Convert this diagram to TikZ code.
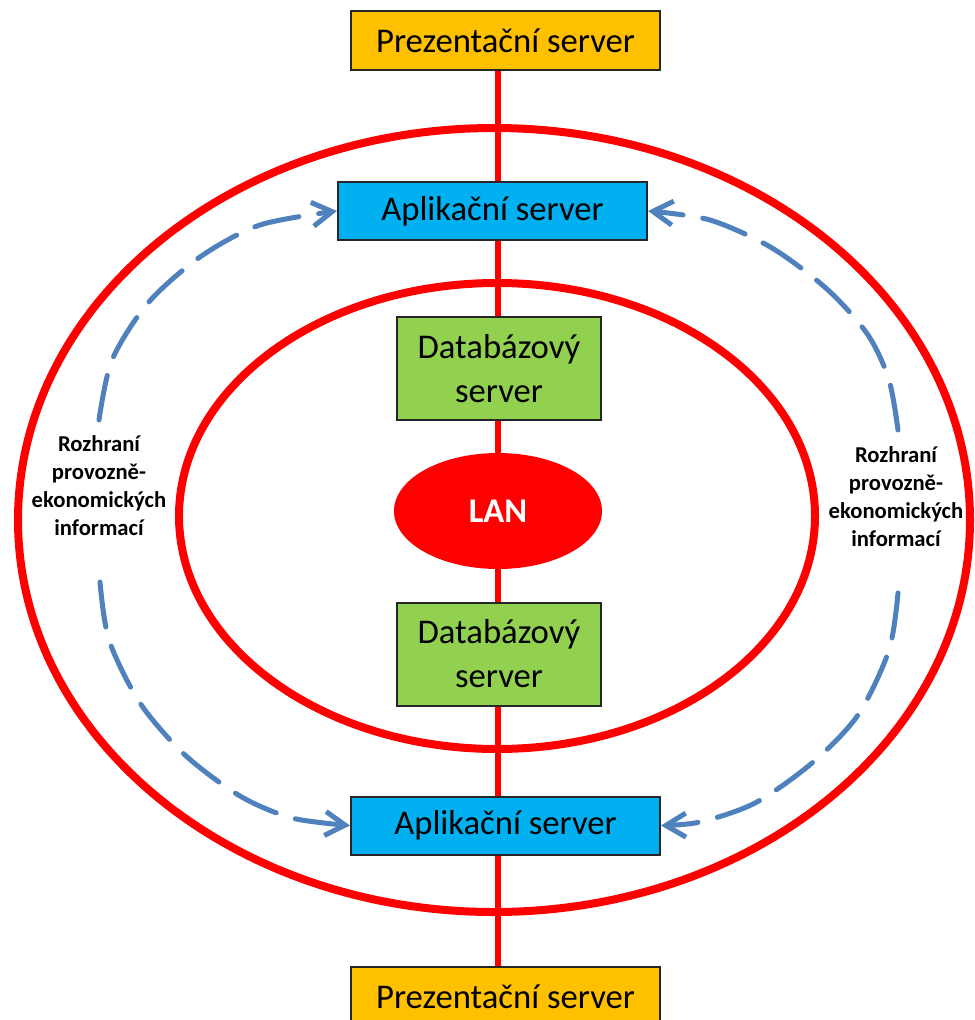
\documentclass[tikz,border=0pt]{standalone}
\usepackage{fontspec}
\setmainfont{Carlito}
\usetikzlibrary{shapes.geometric,arrows.meta}
\definecolor{ringred}{HTML}{FF0000}
\definecolor{presorange}{HTML}{FFC000}
\definecolor{appblue}{HTML}{00B0F0}
\definecolor{dbgreen}{HTML}{92D050}
\definecolor{flowblue}{HTML}{4F81BD}
\pgfdeclarelayer{back}
\pgfdeclarelayer{mid}
\pgfsetlayers{back,mid,main}
\begin{document}
\begin{tikzpicture}[x=0.75pt,y=-0.75pt,
  server/.style={draw=black!85,line width=1.5pt,inner sep=0pt,align=center,
    font=\fontsize{26}{33}\selectfont},
  pres/.style={server,fill=presorange,minimum width=231.75pt,minimum height=44.25pt},
  app/.style={server,fill=appblue,minimum width=231.75pt,minimum height=43.5pt},
  db/.style={server,fill=dbgreen,minimum width=153pt,minimum height=77.25pt},
  lannode/.style={ellipse,fill=ringred,text=white,inner sep=0pt,
    minimum width=156pt,minimum height=87pt,font=\bfseries\fontsize{26}{30}\selectfont},
  ring/.style={draw=ringred,line width=6pt},
  link/.style={draw=ringred,line width=4.5pt},
  flow/.style={draw=flowblue,line width=3.75pt,line cap=round,
    dash pattern=on 34pt off 15pt,
    -{Straight Barb[length=15pt,width=18pt]}},
  note/.style={align=center,font=\bfseries\fontsize{17}{21}\selectfont}]
\useasboundingbox (0,0) rectangle (974,1020);
\clip (0,0) rectangle (974,1020);
\begin{pgfonlayer}{back}
  \fill[white] (0,0) rectangle (974,1020);
\end{pgfonlayer}

% server tiers
\node[pres] (p1) at (505.5,40.5) {Prezentační server};
\node[app]  (a1) at (492.5,211) {Aplikační server};
\node[db]   (d1) at (499,368.5) {Databázový\\server};
\node[lannode] (lan) at (498,511) {LAN};
\node[db]   (d2) at (499,654) {Databázový\\server};
\node[app]  (a2) at (505.5,825.5) {Aplikační server};
\node[pres] (p2) at (505.5,996.5) {Prezentační server};

% rings and the red backbone behind the boxes
\begin{pgfonlayer}{mid}
  \draw[ring] (494,520) ellipse [x radius=357pt, y radius=294pt];
  \draw[ring] (497,516) ellipse [x radius=238.5pt, y radius=174.75pt];
  \draw[link] (p1.south -| lan.center) -- (a1.north -| lan.center);
  \draw[link] (a1.south -| lan.center) -- (d1.north -| lan.center);
  \draw[link] (d1.south -| lan.center) -- (lan.north);
  \draw[link] (lan.south) -- (d2.north -| lan.center);
  \draw[link] (d2.south -| lan.center) -- (a2.north -| lan.center);
  \draw[link] (a2.south -| lan.center) -- (p2.north -| lan.center);
\end{pgfonlayer}

% interface labels
\node[note] (nl) at (99,486) {Rozhraní\\provozně-\\ekonomických\\informací};
\node[note] (nr) at (896,497) {Rozhraní\\provozně-\\ekonomických\\informací};

% dashed interface flows
\coordinate (lu) at (99,420);
\coordinate (ll) at (100,582);
\coordinate (ru) at (898,430);
\coordinate (rl) at (898,593);
\draw[flow] plot[smooth] coordinates {(lu) (112,360) (148,303) (200,257) (260,225) (a1.west)};
\draw[flow] plot[smooth] coordinates {(ll) (109,640) (140,703) (185,755) (240,796) (292,818) (a2.west)};
\draw[flow] plot[smooth] coordinates {(ru) (889,380) (868,335) (828,290) (772,248) (710,220) (a1.east)};
\draw[flow] plot[smooth] coordinates {(rl) (889,650) (858,715) (812,763) (755,803) (700,822) (a2.east)};
\end{tikzpicture}
\end{document}
